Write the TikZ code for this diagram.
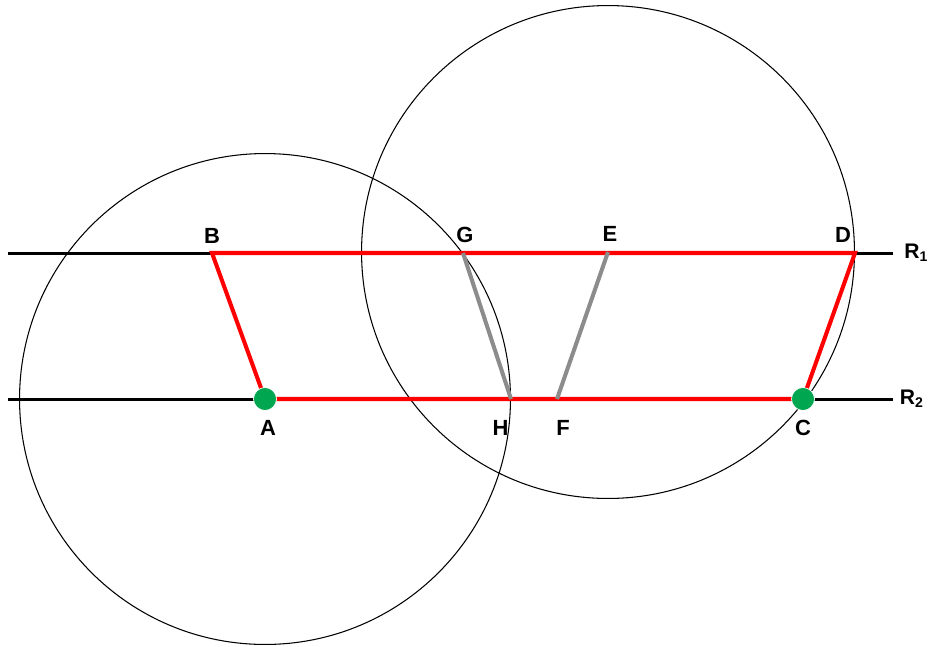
\documentclass[tikz,border=0pt]{standalone}
\usepackage{fontspec}
\setmainfont{Liberation Sans}
\usetikzlibrary{positioning}
\definecolor{sidered}{HTML}{FF0000}
\definecolor{ptgreen}{HTML}{00A650}
\definecolor{auxgray}{HTML}{8C8C8C}

\begin{document}
\begin{tikzpicture}[x=0.02cm, y=-0.02cm,
          rail/.style={draw=black, line width=1.7pt},
          circ/.style={draw=black, line width=0.6pt},
          side/.style={draw=sidered, line width=2.3pt, line join=miter},
          aux/.style={draw=auxgray, line width=2.3pt},
          dot/.style={circle, fill=ptgreen, draw=white, line width=0.4pt, minimum size=0.46cm, inner sep=0pt},
          lbl/.style={font=\fontsize{12.5}{14}\selectfont\bfseries, inner sep=0pt},
          rlbl/.style={font=\fontsize{12}{14}\selectfont\bfseries, inner sep=0pt}]
        \useasboundingbox (0,0) rectangle (935,646);
        % points on the two lines
        \coordinate (L1) at (8,253);
        \coordinate (R1e) at (893,253);
        \coordinate (L2) at (8,399);
        \coordinate (R2e) at (893,399);
        \coordinate (B) at (212,253);
        \coordinate (G) at (463,253);
        \coordinate (E) at (608,252);
        \coordinate (D) at (855,253);
        \coordinate (A) at (265,399);
        \coordinate (H) at (511,399);
        \coordinate (F) at (557,399);
        \coordinate (C) at (803,399);
        \draw[rail] (L1) -- (R1e);
        \draw[rail] (L2) -- (R2e);
        \draw[circ] (A) circle[radius=4.91cm];
        \draw[circ] (E) circle[radius=4.93cm];
        \draw[side] (A) -- (B) -- (D) -- (C) -- cycle;
        \draw[aux] (G) -- (H);
        \draw[aux] (E) -- (F);
        \node[dot] (dA) at (A) {};
        \node[dot] (dC) at (C) {};
        % labels
        \node[lbl, above=0.18cm of B] (lB) {B};
        \node[lbl, above=0.2cm of G, xshift=0.04cm] (lG) {G};
        \node[lbl, above=0.2cm of E, xshift=0.04cm] (lE) {E};
        \node[lbl, above=0.2cm of D, xshift=-0.24cm] (lD) {D};
        \node[lbl, below=0.42cm of A, xshift=0.06cm] (lA) {A};
        \node[lbl, below=0.42cm of H, xshift=-0.21cm] (lH) {H};
        \node[lbl, below=0.42cm of F, xshift=0.12cm] (lF) {F};
        \node[lbl, below=0.42cm of C] (lC) {C};
        \node[rlbl, right=0.22cm of R1e] (lR1) {R\textsubscript{1}};
        \node[rlbl, right=0.13cm of R2e] (lR2) {R\textsubscript{2}};
      \end{tikzpicture}
\end{document}
